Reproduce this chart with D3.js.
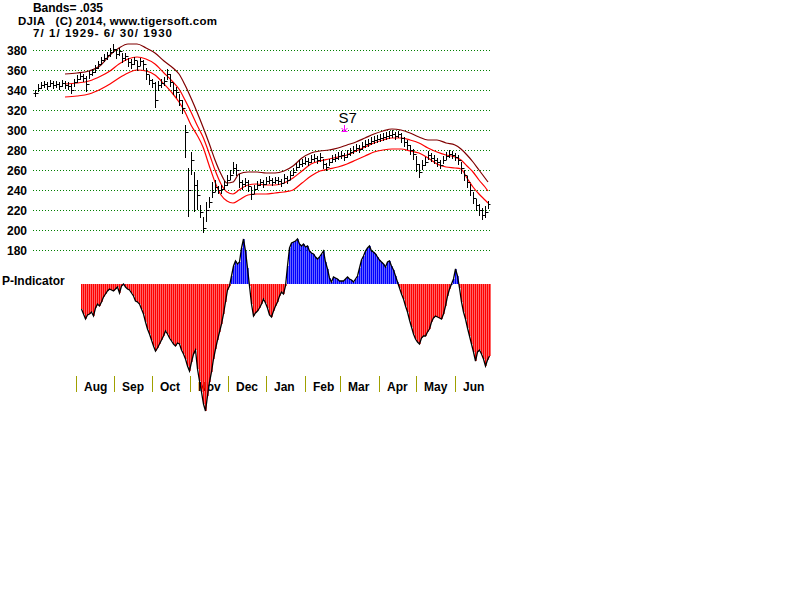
<!DOCTYPE html>
<html><head><meta charset="utf-8">
<script src="https://cdn.jsdelivr.net/npm/d3@7"></script>
<style>
body{margin:0;background:#fff}
svg{display:block}
</style>
</head><body>
<svg id="c" width="800" height="600" font-family="Arial, 'Liberation Sans', sans-serif" font-weight="bold" font-size="12"></svg>
<script>
// ---------- data ----------
const yTicks = [380, 360, 340, 320, 300, 280, 260, 240, 220, 200, 180];
const months = ["Aug","Sep","Oct","Nov","Dec","Jan","Feb","Mar","Apr","May","Jun"];
const monthStarts = ["1929-08-01","1929-09-01","1929-10-01","1929-11-01","1929-12-01","1930-01-01","1930-02-01","1930-03-01","1930-04-01","1930-05-01","1930-06-01"];

const close = [337,342,345,346,344,347,345,346,344,347,345,344,340,348,351,354,352,346,356,358,
362,366,370,372,375,378,381,376,379,372,374,368,366,370,364,369,366,356,350,347,
330,345,347,349,356,348,340,338,330,322,298,240,270,245,235,218,202,220,228,238,
243,240,241,245,250,255,262,260,248,246,248,244,236,241,245,248,246,249,250,248,
250,249,247,252,250,255,258,263,266,267,269,268,271,272,270,273,266,263,268,271,
272,274,275,273,276,278,280,282,281,284,286,287,289,290,291,292,293,294,295,296,
294,296,292,288,285,280,276,266,258,265,268,275,272,270,268,265,270,274,276,275,
273,270,262,255,248,240,232,225,220,215,218,226];
const high = [340,346,348,349,348,350,349,349,348,350,349,348,346,351,355,357,356,354,359,361,
365,369,373,376,378,382,386,381,382,377,377,372,371,373,369,372,370,362,355,351,
348,349,351,353,361,356,347,343,336,330,305,262,278,258,250,225,213,228,233,248,
250,244,245,249,255,260,268,266,256,250,252,250,243,245,249,251,250,253,254,252,
253,253,251,256,254,259,262,267,270,271,273,272,275,276,274,277,271,267,271,275,
276,278,279,277,280,282,284,286,285,288,290,291,293,294,295,296,297,298,299,300,
298,299,297,293,290,285,281,274,266,270,273,279,277,275,272,270,274,278,280,279,
277,275,268,260,254,246,238,231,226,222,224,229];
const low = [333,338,341,342,340,343,341,342,340,343,341,340,336,343,347,350,348,338,351,354,
357,361,365,368,370,373,377,371,374,367,369,363,361,365,359,364,360,350,345,342,
322,339,342,344,350,343,335,332,324,316,272,213,255,218,220,212,197,208,222,232,
238,236,236,240,244,250,256,254,242,240,243,238,230,236,240,244,242,245,246,244,
246,245,243,247,246,250,254,259,262,263,265,264,267,268,266,268,261,259,264,267,
268,270,271,269,272,274,276,278,277,280,282,283,285,286,287,288,289,290,291,292,
290,292,287,283,280,275,270,258,252,260,264,270,268,266,263,261,266,270,272,271,
269,265,256,249,242,234,226,219,214,210,212,221];

// band samples (bar index) and values
const bandIdx   = [10,14,18,22,25,28,31,34,37,40,43,46,48,50,52,54,56,58,60,62,64,66,68,71,74,77,80,83,86,89,92,95,98,101,104,107,110,113,116,119,122,125,128,131,134,137,140,142,144,146,148,150,151];
const bandUpper = [356,357,359,365,375,382,386,386,382,377,369,362,356,345,332,318,303,287,270,256,247,248,256,258,258,257,257,259,264,272,277,279,280,282,285,288,292,296,299,301,300,297,293,290,290,287,285,281,275,268,260,252,248];
const bandMid   = [346,347,349,354,359,366,371,373,371,366,357,348,341,330,318,305,293,277,260,246,238,236,240,245,246,245,245,247,252,259,266,269,271,273,275,279,283,287,290,292,292,290,287,282,278,275,273,270,264,258,250,243,239];
const bandLower = [333,334,336,341,346,352,357,360,359,355,346,336,328,318,305,295,283,265,248,235,229,227,230,235,236,236,237,238,240,247,254,259,261,263,266,270,274,278,280,281,281,279,277,272,266,263,262,261,252,243,236,230,227];

// P-Indicator values (one per indicator bar)
const pInd = [-25,-30,-35,-31,-30,-28,-32,-24,-20,-22,
-18,-13,-10,-7,-5,-6,-7,-5,-3,-9,
-2,0,-3,-5,-6,-9,-12,-17,-18,-20,
-25,-30,-38,-45,-50,-56,-62,-67,-64,-60,
-56,-52,-47,-50,-54,-57,-60,-62,-59,-60,
-66,-70,-75,-82,-87,-78,-70,-66,-85,-97,
-108,-120,-127,-112,-98,-88,-75,-65,-56,-48,
-40,-30,-18,-6,-2,8,18,23,20,22,
36,45,33,16,-2,-20,-32,-29,-27,-24,
-20,-15,-19,-24,-31,-33,-27,-22,-18,-12,
-8,-10,-2,18,36,41,42,43,45,40,
38,40,37,38,33,31,30,27,25,27,
30,33,22,15,6,2,7,6,5,3,
3,3,5,7,5,4,2,5,8,16,
24,28,33,36,38,33,32,30,27,24,
22,20,17,22,23,18,14,8,2,-4,
-10,-15,-22,-28,-36,-43,-50,-55,-58,-60,
-54,-52,-52,-48,-45,-38,-34,-32,-33,-34,
-35,-30,-22,-12,-5,0,5,15,8,-4,
-18,-28,-35,-44,-52,-60,-68,-77,-68,-66,
-70,-75,-82,-76,-72];

const signals = [{idx:103, label:"S7"}];
const titleLines = ["Bands= .035", "DJIA   (C) 2014, www.tigersoft.com", "7/ 1/ 1929- 6/ 30/ 1930"];

// ---------- drawing ----------
const svg = d3.select("#c");
const xBar = d3.scaleLinear().domain([0, close.length - 1]).range([35, 488]);
const xInd = d3.scaleLinear().domain([0, pInd.length - 1]).range([81, 489]);
const xTime = d3.scaleTime().domain([new Date(1929,6,1), new Date(1930,5,30)]).range([37, 491]);
const y = d3.scaleLinear().domain([180, 380]).range([250, 50]);
const yInd = d3.scaleLinear().domain([-130, 50]).range([414, 234]);
const px = v => Math.round(v) + 0.5;

// gridlines
svg.append("g").selectAll("line").data(yTicks).join("line")
  .attr("x1", 33).attr("x2", 490)
  .attr("y1", d => px(y(d))).attr("y2", d => px(y(d)))
  .attr("stroke", "#008000").attr("stroke-width", 1).attr("stroke-dasharray", "1,2");

// y axis labels
const yAxis = svg.append("g").attr("transform", "translate(33,0)")
  .call(d3.axisLeft(y).tickValues(yTicks).tickSize(0).tickPadding(6).tickFormat(d3.format("d")));
yAxis.select(".domain").remove();
yAxis.attr("font-size", null).attr("font-family", null);
yAxis.selectAll("text").attr("fill", "#000").attr("dy", "0.36em");

// month ticks & labels (drawn under the indicator, which overlaps "Nov")
const mg = svg.append("g");
monthStarts.forEach((m, i) => {
  const x = Math.round(xTime(new Date(m + "T00:00:00")));
  mg.append("rect").attr("x", x).attr("y", 376).attr("width", 1).attr("height", 16)
    .attr("fill", "#a0a000").attr("shape-rendering", "crispEdges");
  mg.append("text").attr("x", x + 8).attr("y", 391).text(months[i]);
});

// P-Indicator bars
svg.append("g").selectAll("rect").data(pInd).join("rect")
  .attr("x", (d, i) => Math.round(xInd(i)))
  .attr("width", 1.6)
  .attr("y", d => Math.min(yInd(0), yInd(d)))
  .attr("height", d => Math.max(1, Math.abs(yInd(d) - yInd(0))))
  .style("fill", d => d >= 0 ? "#0000ff" : "#ff0000");

// P-Indicator outline
svg.append("path")
  .attr("d", d3.line().x((d, i) => xInd(i) + 0.5).y(d => yInd(d))(pInd))
  .attr("fill", "none").attr("stroke", "#000").attr("stroke-width", 1.3);

// bands
const bandLine = arr => d3.line()
  .x((d, i) => xBar(bandIdx[i])).y((d, i) => y(arr[i]))
  .curve(d3.curveMonotoneX)(arr);
svg.append("path").attr("d", bandLine(bandUpper)).attr("fill", "none").attr("stroke", "#800000").attr("stroke-width", 1.2);
svg.append("path").attr("d", bandLine(bandMid)).attr("fill", "none").attr("stroke", "#ff0000").attr("stroke-width", 1.2);
svg.append("path").attr("d", bandLine(bandLower)).attr("fill", "none").attr("stroke", "#ff0000").attr("stroke-width", 1.2);

// price bars
const bars = svg.append("g").attr("stroke", "#000").attr("stroke-width", 1);
close.forEach((c, i) => {
  const x = px(xBar(i));
  const o = i > 0 ? close[i - 1] : c;
  bars.append("line").attr("x1", x).attr("x2", x).attr("y1", y(high[i])).attr("y2", y(low[i]));
  bars.append("line").attr("x1", x - 2).attr("x2", x).attr("y1", px(y(o))).attr("y2", px(y(o)));
  bars.append("line").attr("x1", x).attr("x2", x + 2).attr("y1", px(y(c))).attr("y2", px(y(c)));
});

// signals
signals.forEach(s => {
  const x = px(xBar(s.idx));
  const top = y(high[s.idx]) - 29;
  svg.append("text").attr("x", x - 6).attr("y", top - 1)
    .attr("font-size", 15).attr("font-weight", "normal").text(s.label);
  const g = svg.append("g").attr("stroke", "#ff00ff").attr("stroke-width", 1).attr("fill", "none");
  g.append("line").attr("x1", x).attr("x2", x).attr("y1", top + 1).attr("y2", top + 7);
  g.append("path").attr("d", `M${x-3},${top+4} L${x},${top+7} L${x+3},${top+4}`);
  g.append("line").attr("x1", x - 3).attr("x2", x + 3).attr("y1", top + 7.5).attr("y2", top + 7.5);
});

// title texts
svg.append("text").attr("x", 33).attr("y", 12).attr("textLength", 70).attr("lengthAdjust", "spacing").text(titleLines[0]);
svg.append("text").attr("x", 18).attr("y", 25).attr("font-size", 11.5).attr("textLength", 199).attr("lengthAdjust", "spacing")
  .attr("xml:space", "preserve").style("white-space", "pre").text(titleLines[1]);
svg.append("text").attr("x", 33).attr("y", 37).attr("font-size", 11.5).attr("textLength", 139).attr("lengthAdjust", "spacing")
  .attr("xml:space", "preserve").style("white-space", "pre").text(titleLines[2]);
svg.append("text").attr("x", 2).attr("y", 285).text("P-Indicator");
</script>
</body></html>
